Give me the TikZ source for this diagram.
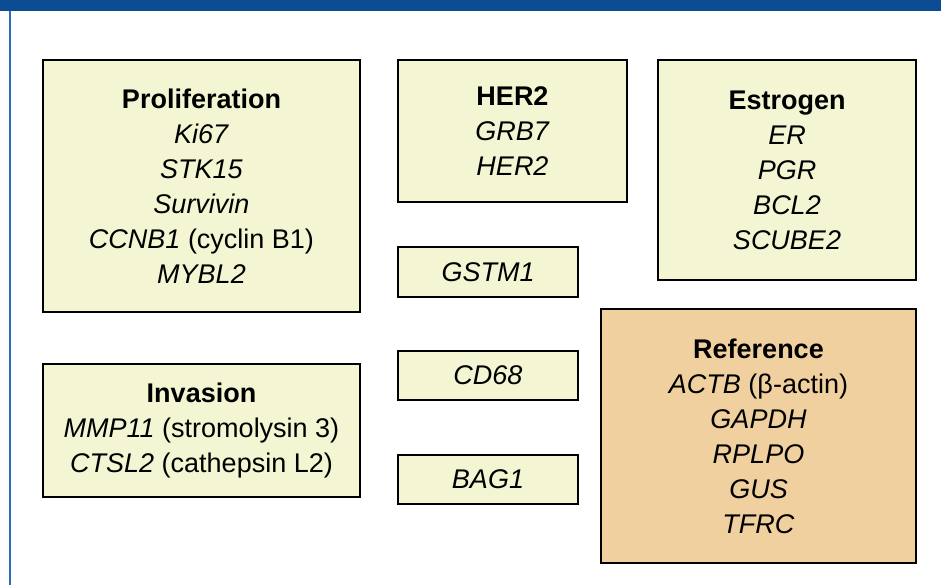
\documentclass[tikz,border=0pt]{standalone}
\usepackage{fontspec}
\setmainfont{Liberation Sans}
\definecolor{barblue}{HTML}{0B4C92}
\definecolor{lineblue}{HTML}{2C6BB8}
\definecolor{boxyellow}{HTML}{F4F5D2}
\definecolor{boxtan}{HTML}{F0D09F}
\tikzset{
  genebox/.style={draw=black, line width=1.6pt, fill=boxyellow, inner sep=0pt,
    align=center, font=\fontsize{27}{35}\selectfont},
  refbox/.style={genebox, fill=boxtan}
}
\begin{document}
\begin{tikzpicture}[x=1pt,y=-1pt]
\useasboundingbox (0,0) rectangle (941,585);
\fill[white] (0,0) rectangle (941,585);
\fill[barblue] (0,0) rectangle (941,11);
\draw[lineblue, line width=2pt] (9.5,11) -- (9.5,585);

\node[genebox, minimum width=317pt, minimum height=252pt] (prolif) at (201.5,186)
  {\textbf{Proliferation}\\ \textit{Ki67}\\ \textit{STK15}\\ \textit{Survivin}\\ \textit{CCNB1} (cyclin B1)\\ \textit{MYBL2}};
\node[genebox, minimum width=229pt, minimum height=142pt] (her2) at (512.5,131)
  {\textbf{HER2}\\ \textit{GRB7}\\ \textit{HER2}};
\node[genebox, minimum width=258pt, minimum height=220pt] (estrogen) at (787,170)
  {\textbf{Estrogen}\\ \textit{ER}\\ \textit{PGR}\\ \textit{BCL2}\\ \textit{SCUBE2}};
\node[genebox, minimum width=180pt, minimum height=50pt] (gstm1) at (488,272)
  {\textit{GSTM1}};
\node[genebox, minimum width=180pt, minimum height=49pt] (cd68) at (488,375.5)
  {\textit{CD68}};
\node[genebox, minimum width=180pt, minimum height=49pt] (bag1) at (488,479.5)
  {\textit{BAG1}};
\node[genebox, minimum width=317pt, minimum height=133pt] (invasion) at (201.5,430.5)
  {\textbf{Invasion}\\ \textit{MMP11} (stromolysin 3)\\ \textit{CTSL2} (cathepsin L2)};
\node[refbox, minimum width=315pt, minimum height=254pt] (reference) at (758.5,436)
  {\textbf{Reference}\\ \textit{ACTB} (β-actin)\\ \textit{GAPDH}\\ \textit{RPLPO}\\ \textit{GUS}\\ \textit{TFRC}};
\end{tikzpicture}
\end{document}
